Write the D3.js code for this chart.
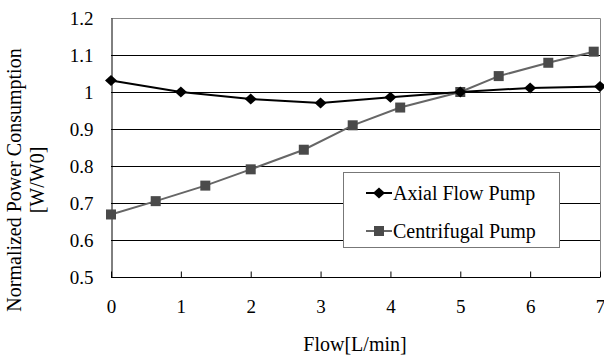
<!DOCTYPE html>
<html><head><meta charset="utf-8">
<script src="https://cdn.jsdelivr.net/npm/d3@7"></script>
<style>body{margin:0;background:#fff}svg{display:block}</style>
</head><body><svg id="c" width="604" height="358"></svg>
<script>
const xTicks = [0,1,2,3,4,5,6,7];
const yTicks = [0.5,0.6,0.7,0.8,0.9,1.0,1.1,1.2];
const yTickLabels = ["0.5","0.6","0.7","0.8","0.9","1","1.1","1.2"];
const axialX = [0,1,2,3,4,5,6,7];
const axialY = [1.031,1.0,0.981,0.970,0.986,1.0,1.011,1.015];
const centX = [0,0.64,1.35,2.0,2.76,3.46,4.14,5.0,5.55,6.26,6.91];
const centY = [0.669,0.705,0.747,0.791,0.844,0.910,0.958,1.0,1.043,1.079,1.109];
const seriesNames = ["Axial Flow Pump","Centrifugal Pump"];

const FONT = "Liberation Serif";
const svg = d3.select("#c");
const L=111,R=600,T=18,B=277;
const x = d3.scaleLinear().domain([0,7]).range([L,R]);
const y = d3.scaleLinear().domain([0.5,1.2]).range([B,T]);

svg.append("g").selectAll("line").data(yTicks.filter(v=>v>0.5&&v<1.2)).join("line")
  .attr("x1",L).attr("x2",R).attr("y1",d=>Math.round(y(d))+0.5).attr("y2",d=>Math.round(y(d))+0.5)
  .attr("stroke","#000").attr("stroke-width",1);
svg.append("path").attr("d",`M${L},${T+0.5}H${R+0.5}V${B}`).attr("fill","none").attr("stroke","#888").attr("stroke-width",1);

const xAxis = d3.axisBottom(x).tickValues(xTicks).tickSize(-6).tickPadding(24).tickFormat(d3.format("d"));
const gx = svg.append("g").attr("transform",`translate(0,${B+0.5})`).call(xAxis);
gx.attr("font-family",null).attr("font-size",null);
gx.select(".domain").attr("stroke","#000").attr("d",`M${L},0H${R}`);
gx.selectAll(".tick line").attr("stroke","#000");
gx.selectAll(".tick text").style("font-family",FONT).style("font-size","19px").attr("fill","#000").attr("dy","0.35em").attr("y",29);

const yAxis = d3.axisLeft(y).tickValues(yTicks).tickSize(0).tickPadding(18).tickFormat((d,i)=>yTickLabels[i]);
const gy = svg.append("g").attr("transform",`translate(${L+0.5},0)`).call(yAxis);
gy.attr("font-family",null).attr("font-size",null);
gy.select(".domain").attr("stroke","#000");
gy.selectAll(".tick text").style("font-family",FONT).style("font-size","19px").attr("fill","#000");

const t = (sel)=>sel.style("font-family",FONT).style("font-size","20px").attr("fill","#000");
svg.append("text").attr("transform","translate(21,180) rotate(-90)").attr("text-anchor","middle").call(t).text("Normalized Power Consumption");
svg.append("text").attr("transform","translate(44,180) rotate(-90)").attr("text-anchor","middle").call(t).text("[W/W0]");
svg.append("text").attr("x",355).attr("y",351).attr("text-anchor","middle").call(t).text("Flow[L/min]");

const line = d3.line().x(d=>x(d[0])).y(d=>y(d[1]));
const centData = centX.map((v,i)=>[v,centY[i]]);
const axialData = axialX.map((v,i)=>[v,axialY[i]]);

svg.append("path").datum(centData).attr("d",line).attr("fill","none").attr("stroke","#666").attr("stroke-width",2);
svg.append("g").selectAll("rect").data(centData).join("rect")
  .attr("x",d=>x(d[0])-5).attr("y",d=>y(d[1])-5).attr("width",10).attr("height",10).attr("fill","#4a4a4a");

svg.append("path").datum(axialData).attr("d",line).attr("fill","none").attr("stroke","#000").attr("stroke-width",2);
const diamond = (cx,cy)=>`M${cx-6},${cy}L${cx},${cy-5.5}L${cx+6},${cy}L${cx},${cy+5.5}Z`;
svg.append("g").selectAll("path").data(axialData).join("path")
  .attr("d",d=>diamond(x(d[0]),y(d[1]))).attr("fill","#000");

const lg = svg.append("g");
lg.append("rect").attr("x",343.5).attr("y",172.5).attr("width",216).attr("height",75).attr("fill","#fff").attr("stroke","#777").attr("stroke-width",1);
const ly = [193,231];
lg.append("line").attr("x1",366).attr("x2",392).attr("y1",ly[0]).attr("y2",ly[0]).attr("stroke","#000").attr("stroke-width",2);
lg.append("path").attr("d",diamond(379,ly[0])).attr("fill","#000");
lg.append("line").attr("x1",366).attr("x2",392).attr("y1",ly[1]).attr("y2",ly[1]).attr("stroke","#666").attr("stroke-width",2);
lg.append("rect").attr("x",374).attr("y",ly[1]-5).attr("width",10).attr("height",10).attr("fill","#4a4a4a");
lg.selectAll("text.l").data(seriesNames).join("text").attr("class","l")
  .attr("x",393).attr("y",(d,i)=>ly[i]).attr("dy","0.35em").call(t).text(d=>d);
</script></body></html>
